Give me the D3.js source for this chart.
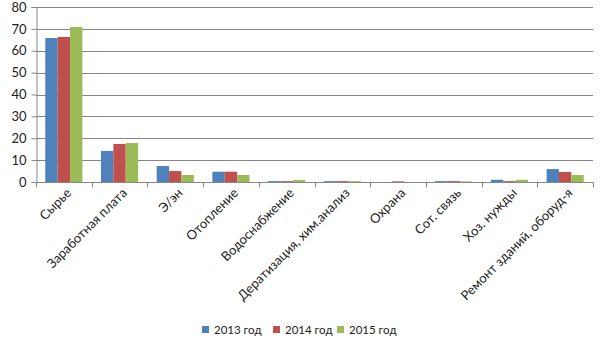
<!DOCTYPE html>
<html><head><meta charset="utf-8">
<script src="https://cdn.jsdelivr.net/npm/d3@7"></script>
<style>body{margin:0;background:#fff}svg{display:block}text{font-family:Lato,"Open Sans",sans-serif;fill:#222}</style>
</head><body>
<svg id="c" width="605" height="340"></svg>
<script>
const categories = ["Сырье","Заработная плата","Э/эн","Отопление","Водоснабжение","Дератизация, хим.анализ","Охрана","Сот. связь","Хоз. нужды","Ремонт зданий, оборуд-я"];
const seriesNames = ["2013 год","2014 год","2015 год"];
const values2013 = [65.8,14.2,7.3,4.7,0.4,0.4,0,0.4,1.0,5.9];
const values2014 = [66.3,17.4,5.0,4.7,0.4,0.4,0.3,0.4,0.4,4.6];
const values2015 = [70.9,17.8,3.2,3.2,0.9,0.4,0,0.3,1.0,3.2];
const yTicks = [0,10,20,30,40,50,60,70,80];
const colors = ["#4F81BD","#C0504D","#9BBB59"];

(function () {
const series = [values2013, values2014, values2015];
const svg = d3.select("#c");
const plotLeft = 36, plotRight = 593, plotTop = 7, plotBottom = 182;

const x = d3.scaleBand().domain(categories).range([plotLeft, plotRight]).paddingInner(0).paddingOuter(0);
const y = d3.scaleLinear().domain([0, 80]).range([plotBottom, plotTop]);
// three bars per category, gap of 1.5 bar widths split on both sides
const xs = d3.scaleBand().domain([0,1,2]).range([0, x.bandwidth()]).paddingInner(0).paddingOuter(0.75);

// horizontal gridlines
svg.append("g").selectAll("line").data(yTicks.slice(1)).join("line")
  .attr("x1", plotLeft).attr("x2", plotRight)
  .attr("y1", d => Math.round(y(d)) + 0.5).attr("y2", d => Math.round(y(d)) + 0.5)
  .attr("stroke", "#868686").attr("stroke-width", 1);

// bars
const groups = svg.append("g").selectAll("g").data(categories).join("g")
  .attr("transform", c => `translate(${x(c)},0)`);
groups.selectAll("rect").data((c, i) => series.map((s, k) => ({k, v: s[i]}))).join("rect")
  .attr("x", d => xs(d.k)).attr("width", xs.bandwidth())
  .attr("y", d => y(d.v)).attr("height", d => y(0) - y(d.v))
  .attr("fill", d => colors[d.k]);

// y axis
const yAxis = svg.append("g").attr("transform", `translate(${plotLeft + 0.5},0)`)
  .call(d3.axisLeft(y).tickValues(yTicks).tickSize(5).tickPadding(5));
yAxis.select(".domain").attr("stroke", "#868686");
yAxis.selectAll(".tick line").attr("stroke", "#868686");
yAxis.selectAll(".tick text").style("font-size", "13px").style("font-family", "Lato").attr("fill", "#222");

// x axis
const xAxis = svg.append("g").attr("transform", `translate(0,${Math.round(y(0)) + 0.5})`);
xAxis.append("line").attr("x1", plotLeft).attr("x2", plotRight).attr("stroke", "#868686");
const bounds = categories.map(c => x(c)).concat([plotRight]);
xAxis.selectAll(".tk").data(bounds).join("line").attr("class", "tk")
  .attr("x1", d => Math.round(d) + 0.5).attr("x2", d => Math.round(d) + 0.5)
  .attr("y1", 0).attr("y2", 5).attr("stroke", "#868686");
xAxis.selectAll(".lbl").data(categories).join("text").attr("class", "lbl")
  .attr("transform", c => `translate(${x(c) + x.bandwidth() / 2 + 5},${8}) rotate(-45)`)
  .attr("text-anchor", "end").attr("dy", "0.35em")
  .style("font-size", "13px").text(c => c);

// legend
const legendX = [202, 273, 337];
const lg = svg.append("g").selectAll("g").data(seriesNames).join("g")
  .attr("transform", (d, i) => `translate(${legendX[i]},326)`);
lg.append("rect").attr("width", 7).attr("height", 7).attr("fill", (d, i) => colors[i]);
lg.append("text").attr("x", 12).attr("y", 4).attr("dy", "0.35em")
  .style("font-size", "11.5px").text(d => d);
})();
</script>
</body></html>
